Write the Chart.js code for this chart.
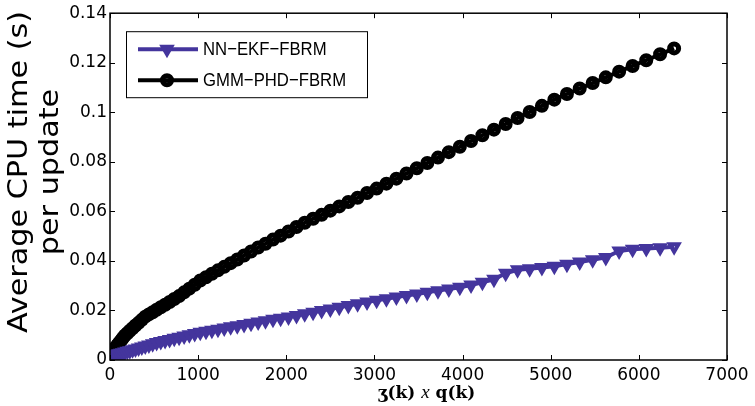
<!DOCTYPE html>
<html>
<head>
<meta charset="utf-8">
<script src="https://cdn.jsdelivr.net/npm/chart.js@4/dist/chart.umd.min.js"></script>
<style>
  html, body { margin: 0; padding: 0; background: #fff; }
  #wrap { width: 755px; height: 406px; position: relative; }
</style>
</head>
<body>
<div id="wrap"><canvas id="cpuChart"></canvas></div>
<script>
// x = z(k) * q(k)
const zqValues = [1, 4, 9, 16, 25, 36, 49, 64, 81, 100, 121, 144, 169, 196, 225, 256, 289, 324, 361, 400,
  441, 484, 529, 576, 625, 676, 729, 784, 841, 900, 961, 1024, 1089, 1156, 1225, 1296, 1369, 1444, 1521, 1600,
  1681, 1764, 1849, 1936, 2025, 2116, 2209, 2304, 2401, 2500, 2601, 2704, 2809, 2916, 3025, 3136, 3249, 3364, 3481, 3600,
  3721, 3844, 3969, 4096, 4225, 4356, 4489, 4624, 4761, 4900, 5041, 5184, 5329, 5476, 5625, 5776, 5929, 6084, 6241, 6400];

// average cpu time per update (s)
const ekfTimes = [0.0015, 0.0015, 0.0016, 0.0017, 0.0018, 0.0019, 0.0020, 0.0021, 0.0023, 0.0025,
  0.0027, 0.0029, 0.0032, 0.0035, 0.0037, 0.0041, 0.0044, 0.0048, 0.0052, 0.0057,
  0.0061, 0.0066, 0.0071, 0.0075, 0.0079, 0.0083, 0.0088, 0.0092, 0.0097, 0.0102,
  0.0107, 0.0112, 0.0116, 0.0120, 0.0124, 0.0129, 0.0134, 0.0138, 0.0143, 0.0148,
  0.0153, 0.0158, 0.0164, 0.0169, 0.0174, 0.0180, 0.0187, 0.0193, 0.0200, 0.0206,
  0.0213, 0.0220, 0.0227, 0.0234, 0.0241, 0.0247, 0.0254, 0.0260, 0.0266, 0.0273,
  0.0280, 0.0287, 0.0294, 0.0303, 0.0314, 0.0326, 0.0350, 0.0364, 0.0368, 0.0373,
  0.0378, 0.0387, 0.0396, 0.0405, 0.0414, 0.0440, 0.0447, 0.0450, 0.0453, 0.0457];

const phdTimes = [0.0012, 0.0015, 0.0019, 0.0024, 0.0030, 0.0036, 0.0043, 0.0051, 0.0059, 0.0068,
  0.0077, 0.0088, 0.0099, 0.0108, 0.0118, 0.0128, 0.0139, 0.0150, 0.0162, 0.0175,
  0.0184, 0.0193, 0.0203, 0.0213, 0.0223, 0.0234, 0.0246, 0.0258, 0.0273, 0.0288,
  0.0304, 0.0321, 0.0334, 0.0348, 0.0362, 0.0376, 0.0391, 0.0406, 0.0422, 0.0438,
  0.0454, 0.0469, 0.0486, 0.0502, 0.0519, 0.0537, 0.0554, 0.0570, 0.0586, 0.0603,
  0.0620, 0.0638, 0.0655, 0.0674, 0.0692, 0.0712, 0.0732, 0.0753, 0.0774, 0.0795,
  0.0817, 0.0839, 0.0861, 0.0884, 0.0907, 0.0930, 0.0953, 0.0977, 0.1001, 0.1026,
  0.1051, 0.1074, 0.1096, 0.1118, 0.1141, 0.1164, 0.1187, 0.1210, 0.1234, 0.1258];

const seriesNames = ["NN\u2212EKF\u2212FBRM", "GMM\u2212PHD\u2212FBRM"];
const yTitleLines = ["Average CPU time (s)", "per update"];

const tickFont = { family: "DejaVu Sans", size: 17 };

function toPoints(ys) {
  return zqValues.map((x, i) => ({ x: x, y: ys[i] }));
}

// matlab style box, inward ticks, titles and legend
const matlabFrame = {
  id: "matlabFrame",
  afterDraw(chart) {
    const ctx = chart.ctx;
    const a = chart.chartArea;
    const xs = chart.scales.x, ys = chart.scales.y;
    ctx.save();
    ctx.strokeStyle = "#000";
    ctx.lineWidth = 1.5;
    ctx.strokeRect(a.left, a.top, a.right - a.left, a.bottom - a.top);
    ctx.lineWidth = 1;
    const tl = 5;
    xs.ticks.forEach(t => {
      const px = Math.round(xs.getPixelForValue(t.value)) + 0.5;
      ctx.beginPath();
      ctx.moveTo(px, a.bottom); ctx.lineTo(px, a.bottom - tl);
      ctx.moveTo(px, a.top); ctx.lineTo(px, a.top + tl);
      ctx.stroke();
    });
    ys.ticks.forEach(t => {
      const py = Math.round(ys.getPixelForValue(t.value)) + 0.5;
      ctx.beginPath();
      ctx.moveTo(a.left, py); ctx.lineTo(a.left + tl, py);
      ctx.moveTo(a.right, py); ctx.lineTo(a.right - tl, py);
      ctx.stroke();
    });

    // y title, two lines, rotated and a bit stretched
    ctx.fillStyle = "#000";
    ctx.font = "27px 'DejaVu Sans'";
    ctx.textAlign = "center";
    ctx.textBaseline = "alphabetic";
    ctx.save();
    ctx.translate(0, 172);
    ctx.rotate(-Math.PI / 2);
    ctx.scale(1.12, 1);
    ctx.fillText(yTitleLines[0], 0, 27);
    ctx.fillText(yTitleLines[1], 0, 58);
    ctx.restore();

    // x title: z(k) x q(k)
    const parts = [
      { t: "\u0292(k) ", f: "bold 17px 'DejaVu Serif'" },
      { t: "x", f: "italic 19px 'Liberation Serif'" },
      { t: " q(k)", f: "bold 17px 'DejaVu Serif'" }
    ];
    let total = 0;
    parts.forEach(p => { ctx.font = p.f; p.w = ctx.measureText(p.t).width; total += p.w; });
    let cx = (a.left + a.right) / 2 + 8 - total / 2;
    ctx.textAlign = "left";
    parts.forEach(p => { ctx.font = p.f; ctx.fillText(p.t, cx, 398); cx += p.w; });

    // legend
    const lx = a.left + 16, ly = a.top + 18, lw = 241, lh = 66;
    ctx.fillStyle = "#fff";
    ctx.fillRect(lx, ly, lw, lh);
    ctx.strokeStyle = "#000";
    ctx.lineWidth = 1;
    ctx.strokeRect(lx + 0.5, ly + 0.5, lw, lh);
    chart.data.datasets.forEach((ds, i) => {
      const yy = ly + 18 + i * 31;
      ctx.strokeStyle = ds.borderColor;
      ctx.lineWidth = ds.borderWidth;
      ctx.beginPath();
      ctx.moveTo(lx + 12, yy); ctx.lineTo(lx + 72, yy);
      ctx.stroke();
      ctx.fillStyle = ds.pointBackgroundColor;
      ctx.strokeStyle = ds.pointBorderColor;
      ctx.lineWidth = ds.pointBorderWidth;
      Chart.helpers.drawPoint(ctx, {
        pointStyle: ds.pointStyle,
        rotation: ds.pointRotation,
        radius: ds.pointRadius,
        borderWidth: ds.pointBorderWidth
      }, lx + 41, yy);
      ctx.fillStyle = "#000";
      ctx.font = "19px 'Liberation Sans'";
      ctx.textBaseline = "middle";
      const w = ctx.measureText(ds.label).width;
      ctx.fillText(ds.label, lx + 77, yy + 1, w * 0.88);
    });
    ctx.restore();
  }
};

new Chart("cpuChart", {
  type: "line",
  data: {
    datasets: [{
      label: seriesNames[0],
      data: toPoints(ekfTimes),
      borderColor: "#44359d",
      borderWidth: 4,
      pointStyle: "triangle",
      pointRotation: 180,
      pointRadius: 5,
      pointBorderWidth: 4,
      pointBackgroundColor: "rgba(0,0,0,0)",
      pointBorderColor: "#44359d",
      tension: 0
    }, {
      label: seriesNames[1],
      data: toPoints(phdTimes),
      borderColor: "#000",
      borderWidth: 4,
      pointStyle: "circle",
      pointRadius: 4.5,
      pointBorderWidth: 5,
      pointBackgroundColor: "rgba(0,0,0,0)",
      pointBorderColor: "#000",
      tension: 0
    }]
  },
  options: {
    responsive: true,
    maintainAspectRatio: false,
    animation: false,
    layout: { padding: { top: 13, right: 28, left: 0, bottom: 0 } },
    plugins: { legend: { display: false }, tooltip: { enabled: false } },
    scales: {
      x: {
        type: "linear",
        min: 0, max: 7000,
        grid: { display: false, drawTicks: false },
        border: { display: false },
        ticks: { stepSize: 1000, color: "#000", font: tickFont, padding: 5, maxRotation: 0,
          callback: v => String(v) },
        afterFit: s => { s.height = 46; }
      },
      y: {
        min: 0, max: 0.14,
        grid: { display: false, drawTicks: false },
        border: { display: false },
        ticks: { stepSize: 0.02, color: "#000", font: tickFont, padding: 3,
          callback: v => String(Math.round(v * 100) / 100) },
        afterFit: s => { s.width = 110; }
      }
    }
  },
  plugins: [matlabFrame]
});
</script>
</body>
</html>
